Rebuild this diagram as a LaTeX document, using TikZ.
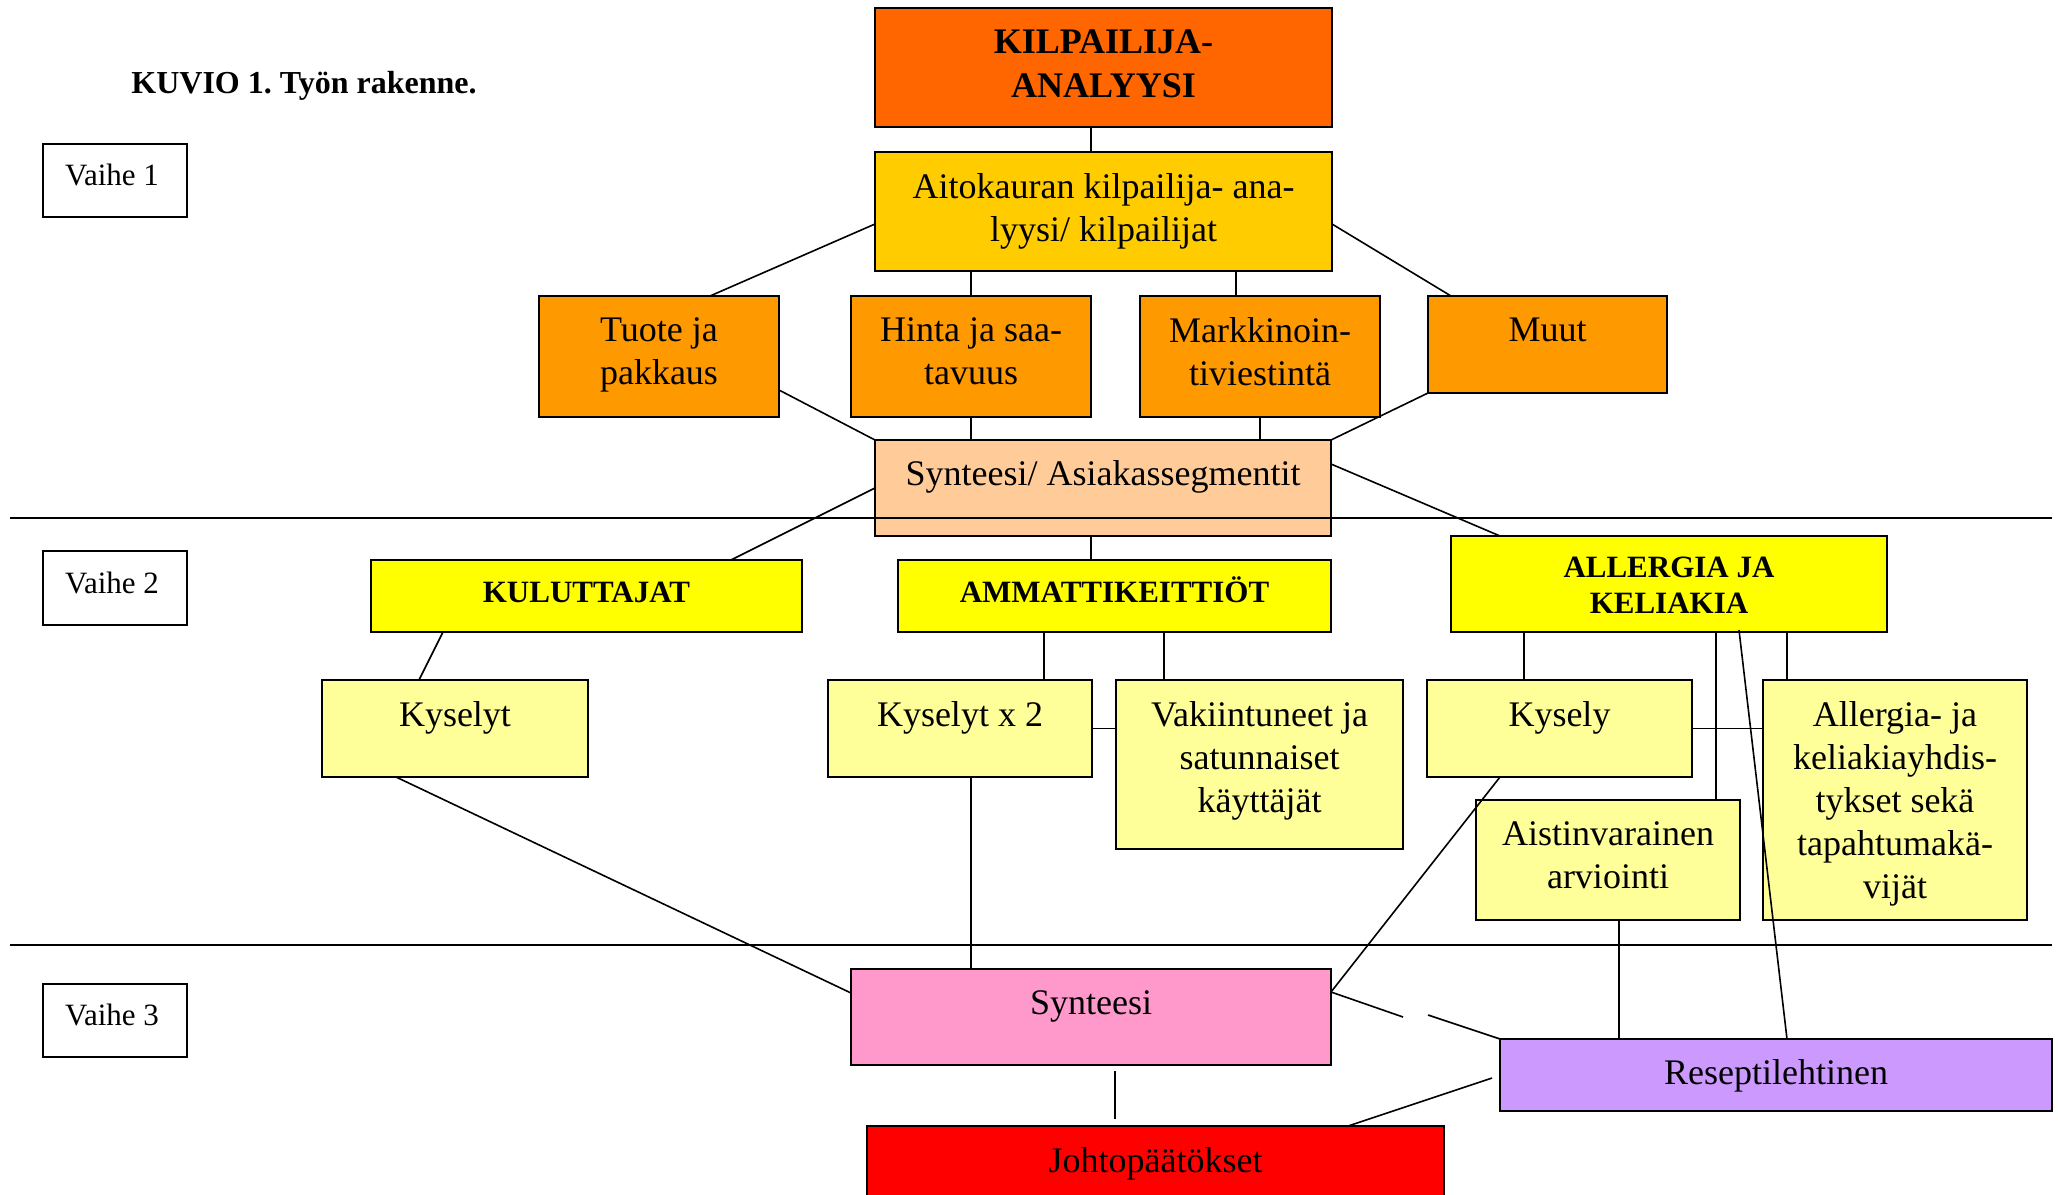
\documentclass[tikz,border=0pt]{standalone}
\usepackage{fontspec}
\setmainfont{Liberation Serif}
\usetikzlibrary{calc,fit}

\definecolor{cKilp}{HTML}{FF6600}
\definecolor{cAito}{HTML}{FFCC00}
\definecolor{cOsa}{HTML}{FF9900}
\definecolor{cSeg}{HTML}{FFCC99}
\definecolor{cRyhma}{HTML}{FFFF00}
\definecolor{cMenet}{HTML}{FFFF99}
\definecolor{cSynt}{HTML}{FF99CC}
\definecolor{cResep}{HTML}{CC99FF}
\definecolor{cJohto}{HTML}{FF0000}

\frenchspacing
\begin{document}
\begin{tikzpicture}[x=0.5pt,y=-0.5pt,
  box/.style={draw=black, line width=1pt, inner sep=0pt, outer sep=0pt},
  link/.style={line width=0.8pt},
  sepline/.style={line width=1pt},
  txt/.style={anchor=north, inner sep=0pt, align=center,
    font=\fontsize{18}{21.5}\selectfont,
    execute at begin node={\rule{0pt}{14pt}}},
  head/.style={txt, font=\bfseries\fontsize{15.5}{18.5}\selectfont},
  phase/.style={txt, font=\fontsize{15.5}{18.5}\selectfont},
]
\clip (0,0) rectangle (2058,1195);
\fill[white] (0,0) rectangle (2058,1195);

% title
\node[anchor=base west, inner sep=0pt, font=\bfseries\fontsize{16}{19}\selectfont]
  (title) at (131,93) {KUVIO 1. Työn rakenne.};

% phase labels
\node[box, fill=white, fit={(43,144)(187,217)}] (v1) {};
\node[box, fill=white, fit={(43,551)(187,625)}] (v2) {};
\node[box, fill=white, fit={(43,984)(187,1057)}] (v3) {};
\node[phase] (v1t) at ($(v1.north)+(-3,13)$) {Vaihe 1};
\node[phase] (v2t) at ($(v2.north)+(-3,14)$) {Vaihe 2};
\node[phase] (v3t) at ($(v3.north)+(-3,13)$) {Vaihe 3};

% phase 1 boxes
\node[box, fill=cKilp, fit={(875,8)(1332,127)}] (kilp) {};
\node[box, fill=cAito, fit={(875,152)(1332,271)}] (aito) {};
\node[box, fill=cOsa, fit={(539,296)(779,417)}] (tuote) {};
\node[box, fill=cOsa, fit={(851,296)(1091,417)}] (hinta) {};
\node[box, fill=cOsa, fit={(1140,296)(1380,417)}] (markk) {};
\node[box, fill=cOsa, fit={(1428,296)(1667,393)}] (muut) {};
\node[box, fill=cSeg, fit={(875,440)(1331,536)}] (seg) {};

% phase 2 boxes
\node[box, fill=cRyhma, fit={(371,560)(802,632)}] (kulu) {};
\node[box, fill=cRyhma, fit={(898,560)(1331,632)}] (amm) {};
\node[box, fill=cRyhma, fit={(1451,536)(1887,632)}] (allerg) {};
\node[box, fill=cMenet, fit={(322,680)(588,777)}] (kys1) {};
\node[box, fill=cMenet, fit={(828,680)(1092,777)}] (kys2) {};
\node[box, fill=cMenet, fit={(1116,680)(1403,849)}] (vak) {};
\node[box, fill=cMenet, fit={(1427,680)(1692,777)}] (kys3) {};
\node[box, fill=cMenet, fit={(1763,680)(2027,920)}] (yhd) {};
\node[box, fill=cMenet, fit={(1476,800)(1740,920)}] (aist) {};

% phase 3 boxes
\node[box, fill=cSynt, fit={(851,969)(1331,1065)}] (synt) {};
\node[box, fill=cResep, fit={(1500,1039)(2052,1111)}] (resep) {};
\node[box, fill=cJohto, fit={(867,1126)(1444,1230)}] (johto) {};

% box texts
\node[txt, font=\bfseries\fontsize{18}{22}\selectfont] (kilpt) at ($(kilp.north)+(0,21)$) {KILPAILIJA-\\ANALYYSI};
\node[txt] (aitot) at ($(aito.north)+(0,21)$) {Aitokauran kilpailija- ana-\\lyysi/ kilpailijat};
\node[txt] (tuotet) at ($(tuote.north)+(0,21)$) {Tuote ja\\pakkaus};
\node[txt] (hintat) at ($(hinta.north)+(0,21)$) {Hinta ja saa-\\tavuus};
\node[txt] (markkt) at ($(markk.north)+(0,21)$) {Markkinoin-\\tiviestintä};
\node[txt] (muutt) at ($(muut.north)+(0,17)$) {Muut};
\node[txt] (segt) at ($(seg.north)+(0,17)$) {Synteesi/ Asiakassegmentit};
\node[head] (kulut) at ($(kulu.north)+(0,14)$) {KULUTTAJAT};
\node[head] (ammt) at ($(amm.north)+(0,14)$) {AMMATTIKEITTIÖT};
\node[head, font=\bfseries\fontsize{15.5}{18}\selectfont] (allergt) at ($(allerg.north)+(0,21)$) {ALLERGIA JA\\KELIAKIA};
\node[txt] (kys1t) at ($(kys1.north)+(0,18)$) {Kyselyt};
\node[txt] (kys2t) at ($(kys2.north)+(0,18)$) {Kyselyt x 2};
\node[txt] (vakt) at ($(vak.north)+(0,21)$) {Vakiintuneet ja\\satunnaiset\\käyttäjät};
\node[txt] (kys3t) at ($(kys3.north)+(0,18)$) {Kysely};
\node[txt] (yhdt) at ($(yhd.north)+(0,21)$) {Allergia- ja\\keliakiayhdis-\\tykset sekä\\tapahtumakä-\\vijät};
\node[txt] (aistt) at ($(aist.north)+(0,21)$) {Aistinvarainen\\arviointi};
\node[txt] (syntt) at ($(synt.north)+(0,17)$) {Synteesi};
\node[txt] (resept) at ($(resep.north)+(0,17)$) {Reseptilehtinen};
\node[txt] (johtot) at ($(johto.north)+(0,18)$) {Johtopäätökset};

% phase separators
\coordinate (s1l) at (10,518);  \coordinate (s1r) at (2052,518);
\coordinate (s2l) at (10,945);  \coordinate (s2r) at (2052,945);
\draw[sepline] (s1l) -- (s1r);
\draw[sepline] (s2l) -- (s2r);

% phase 1 connectors
\draw[link] ($(kilp.south)+(-12.5,0)$) -- ($(aito.north)+(-12.5,0)$);
\draw[link] ($(aito.west)+(0,12.5)$) -- ($(tuote.north)+(51,0)$);
\draw[link] (aito.south -| hinta.north) -- (hinta.north);
\draw[link] ($(markk.north)+(-24,0)$) coordinate (m1) -- (aito.south -| m1);
\draw[link] ($(aito.east)+(0,12.5)$) -- ($(muut.north)+(-96.5,0)$);
\draw[link] ($(tuote.east)+(0,33.5)$) -- (seg.north west);
\draw[link] (hinta.south) -- (seg.north -| hinta.south);
\draw[link] (markk.south) -- (seg.north -| markk.south);
\draw[link] (muut.south west) -- (seg.north east);

% phase 2 connectors
\draw[link] (seg.west) -- ($(kulu.north)+(144.5,0)$);
\draw[link] ($(seg.south)+(-12,0)$) coordinate (m2) -- (amm.north -| m2);
\draw[link] ($(seg.east)+(0,-24)$) -- ($(allerg.north)+(-169,0)$);
\draw[link] ($(kulu.south)+(-143.5,0)$) -- ($(kys1.north)+(-36,0)$);
\draw[link] ($(kys2.north)+(84,0)$) coordinate (m3) -- (amm.south -| m3);
\draw[link] ($(vak.north)+(-95.5,0)$) coordinate (m4) -- (amm.south -| m4);
\draw[link] (kys2.east) -- (kys2.east -| vak.west);
\draw[link] ($(kys3.north)+(-35.5,0)$) coordinate (m5) -- (allerg.south -| m5);
\draw[link] ($(aist.north)+(108,0)$) coordinate (m6) -- (allerg.south -| m6);
\draw[link] ($(yhd.north)+(-108,0)$) coordinate (m7) -- (allerg.south -| m7);
\draw[link] (kys3.east) -- (kys3.east -| yhd.west);
\draw[link] ($(allerg.south)+(70,-2)$) -- ($(resep.north)+(11,0)$);

% phase 3 connectors
\draw[link] ($(kys1.south)+(-59,0)$) -- ($(synt.west)+(0,-24)$);
\draw[link] ($(kys2.south)+(11,0)$) coordinate (m8) -- (synt.north -| m8);
\draw[link] ($(kys3.south)+(-59.5,0)$) -- ($(synt.east)+(0,-25)$);
\draw[link] ($(aist.south)+(11,0)$) coordinate (m9) -- (resep.north -| m9);
\draw[link] ($(synt.east)+(0,-25)$) -- ++(72,25);
\draw[link] (resep.north west) -- ++(-72,-24);
\draw[link] ($(synt.south)+(24,6)$) coordinate (m10) -- ($(johto.north -| m10)+(0,-7)$);
\draw[link] ($(resep.west)+(-8,3)$) -- ($(johto.north)+(192.5,0)$);
\end{tikzpicture}
\end{document}
